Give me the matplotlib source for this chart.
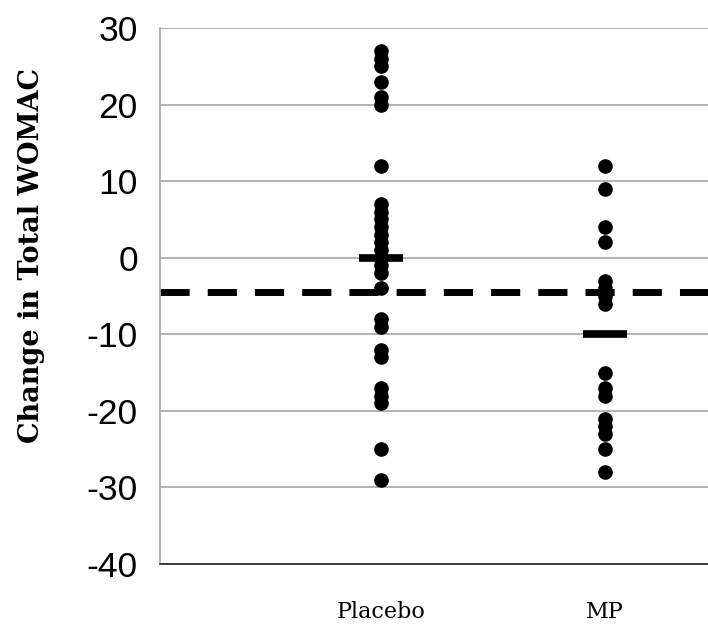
import matplotlib
matplotlib.use("Agg")
import matplotlib.pyplot as plt
import numpy as np

groups = ["Placebo", "MP"]
placebo = [27, 26, 25, 23, 21, 20, 12, 7, 6, 5, 4, 3, 2, 1, 0, -1, -2,
           -4, -8, -9, -12, -13, -17, -18, -19, -25, -29]
mp = [12, 9, 4, 2, -3, -4, -5, -6, -15, -17, -18, -21, -22, -23, -25, -28]
medians = [0, -10]
reference_line = -4.5
yticks = [30, 20, 10, 0, -10, -20, -30, -40]

fig = plt.figure(figsize=(7.08, 6.30), dpi=100)
ax = fig.add_axes([160/708, 1-564/630, 1-160/708, (564-28)/630])

ax.set_ylim(-40, 30)
ax.set_xlim(0.013, 2.46)

for yv in yticks:
    ax.axhline(yv, color="#a6a6a6", lw=1.2, zorder=1)

ax.axhline(reference_line, color="black", lw=5, dashes=(4.2, 2.6), zorder=2)

for i, vals in enumerate([placebo, mp]):
    ax.plot([i + 1] * len(vals), vals, "o", color="black", ms=9.5, zorder=3)
    ax.plot([i + 1 - 0.1, i + 1 + 0.1], [medians[i]] * 2, color="black",
            lw=5.5, solid_capstyle="butt", zorder=4)

for s in ["top", "right"]:
    ax.spines[s].set_visible(False)
ax.spines["left"].set_color("#a6a6a6")
ax.spines["left"].set_linewidth(1.2)
ax.spines["bottom"].set_color("#222222")
ax.spines["bottom"].set_linewidth(1.2)

ax.set_yticks(yticks)
ax.set_yticklabels([str(v) for v in yticks], fontsize=25.5,
                   family="Liberation Sans")
ax.tick_params(axis="y", length=0, pad=16)
ax.set_xticks([1, 2])
ax.set_xticklabels(groups, fontsize=16, family="DejaVu Serif")
ax.tick_params(axis="x", length=0, pad=27)

ax.set_ylabel("Change in Total WOMAC", fontsize=19.5, fontweight="bold",
              family="DejaVu Serif")
ax.yaxis.set_label_coords(-0.21, 0.575)

fig.savefig("out.png", dpi=100)
